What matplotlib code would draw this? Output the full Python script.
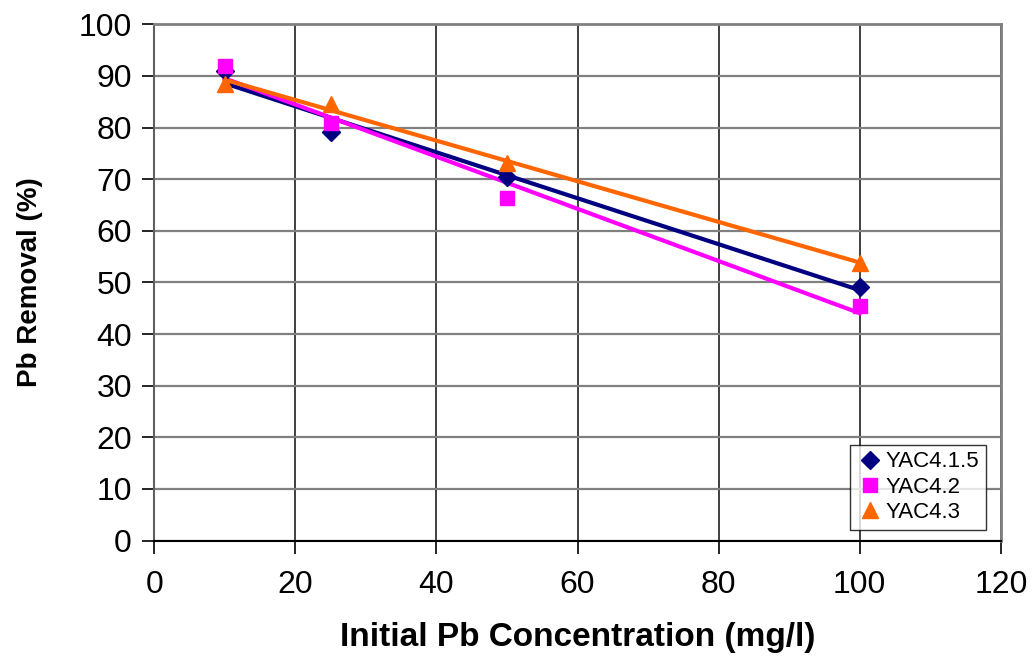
import numpy as np
import matplotlib.pyplot as plt

plt.rcParams['font.family'] = ['Liberation Sans', 'DejaVu Sans']

conc = [10, 25, 50, 100]
yac415 = [91.0, 79.2, 70.4, 49.1]
yac42 = [92.0, 80.9, 66.4, 45.5]
yac43 = [88.5, 84.5, 73.2, 53.8]

series = [
    ('YAC4.1.5', yac415, '#000080', 'D', 9),
    ('YAC4.2', yac42, '#FF00FF', 's', 10),
    ('YAC4.3', yac43, '#FF6600', '^', 12),
]

fig = plt.figure(figsize=(10.35, 6.56), dpi=100)
ax = fig.add_axes([0.149, 0.176, 0.818, 0.787])

x = np.array(conc, dtype=float)
for name, vals, color, marker, size in series:
    ax.plot(x, vals, linestyle='none', marker=marker, color=color,
            markersize=size, label=name, zorder=4)
    # linear trend line across the measured range
    k, b = np.polyfit(x, vals, 1)
    xs = np.array([x.min(), x.max()])
    ax.plot(xs, k * xs + b, color=color, linewidth=3, zorder=3)

ax.set_xlim(0, 120)
ax.set_ylim(0, 100)
ax.set_xticks(np.arange(0, 121, 20))
ax.set_yticks(np.arange(0, 101, 10))
ax.xaxis.grid(True, color='#303030', linewidth=1.3)
ax.yaxis.grid(True, color='#808080', linewidth=1.6)
ax.set_axisbelow(True)

for side in ('top', 'right'):
    ax.spines[side].set_color('#808080')
    ax.spines[side].set_linewidth(2)
ax.spines['left'].set_color('#606060')
ax.spines['left'].set_linewidth(1.5)
ax.spines['bottom'].set_color('black')
ax.spines['bottom'].set_linewidth(1.5)

ax.tick_params(axis='both', labelsize=23, length=9, width=1.2, colors='black')
ax.tick_params(axis='x', pad=12)
ax.tick_params(axis='y', pad=7)

ax.set_xlabel('Initial Pb Concentration (mg/l)', fontsize=24, fontweight='bold', labelpad=16)
ax.set_ylabel('Pb Removal (%)', fontsize=20, fontweight='bold', labelpad=26)

leg = ax.legend(loc='lower right', bbox_to_anchor=(0.988, 0.012), fontsize=16,
                frameon=True, fancybox=False, handletextpad=0.1,
                borderpad=0.3, labelspacing=0.2, handlelength=1.2,
                borderaxespad=0.2)
leg.get_frame().set_edgecolor('black')
leg.get_frame().set_linewidth(1)

fig.savefig('out.png', dpi=100)
